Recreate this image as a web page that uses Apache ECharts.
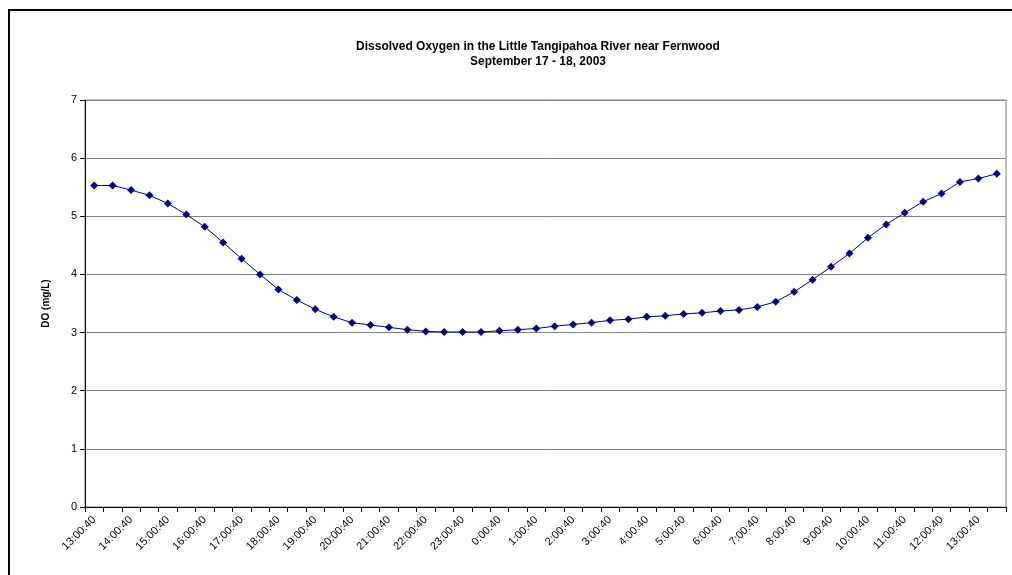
<!DOCTYPE html>
<html>
<head>
<meta charset="utf-8">
<script src="https://cdn.jsdelivr.net/npm/echarts@6/dist/echarts.min.js"></script>
<style>html,body{margin:0;padding:0;background:#fff;}#c{width:1012px;height:575px;}</style>
</head>
<body>
<div id="c"></div>
<script>
var titleLines = ["Dissolved Oxygen in the Little Tangipahoa River near Fernwood", "September 17 - 18, 2003"];
var yAxisName = "DO (mg/L)";
var categories = ["13:00:40","13:30:40","14:00:40","14:30:40","15:00:40","15:30:40","16:00:40","16:30:40",
"17:00:40","17:30:40","18:00:40","18:30:40","19:00:40","19:30:40","20:00:40","20:30:40","21:00:40","21:30:40",
"22:00:40","22:30:40","23:00:40","23:30:40","0:00:40","0:30:40","1:00:40","1:30:40","2:00:40","2:30:40",
"3:00:40","3:30:40","4:00:40","4:30:40","5:00:40","5:30:40","6:00:40","6:30:40","7:00:40","7:30:40",
"8:00:40","8:30:40","9:00:40","9:30:40","10:00:40","10:30:40","11:00:40","11:30:40","12:00:40","12:30:40",
"13:00:40","13:30:40"];
var doValues = [5.53,5.53,5.45,5.36,5.22,5.03,4.82,4.55,4.27,4.00,
3.74,3.56,3.40,3.27,3.17,3.13,3.09,3.05,3.02,3.01,
3.01,3.01,3.03,3.05,3.07,3.11,3.14,3.17,3.21,3.23,
3.27,3.29,3.32,3.34,3.37,3.39,3.44,3.53,3.70,3.91,
4.13,4.36,4.63,4.86,5.06,5.25,5.39,5.59,5.65,5.73];
var yTicks = [0,1,2,3,4,5,6,7];

var chart = echarts.init(document.getElementById('c'), null, {renderer:'canvas'});
chart.setOption({
  animation:false,
  backgroundColor:'#ffffff',
  title:{
    text: titleLines.join('\n'),
    left: 533, top: 34, textAlign:'center',
    textStyle:{fontFamily:'Liberation Sans, Arial, sans-serif', fontSize:12, fontWeight:'bold', color:'#000', lineHeight:15}
  },
  graphic:[{
    type:'rect', shape:{x:9,y:10,width:1200,height:1000},
    style:{fill:null, stroke:'#000', lineWidth:2}, silent:true, z:-1
  }],
  grid:{left:85,right:6,top:100,bottom:68,show:true,borderColor:'#808080',borderWidth:1,backgroundColor:'transparent'},
  xAxis:{
    type:'category', data:categories, boundaryGap:true,
    axisLine:{show:true,lineStyle:{color:'#000',width:1}},
    axisTick:{show:true,interval:0,length:5,inside:false,lineStyle:{color:'#000'}},
    axisLabel:{interval:1,rotate:45,fontFamily:'Liberation Sans, Arial, sans-serif',fontSize:11,color:'#000',margin:11},
    splitLine:{show:false}
  },
  yAxis:{
    type:'value', min:yTicks[0], max:yTicks[yTicks.length-1], interval:1,
    name:yAxisName, nameLocation:'middle', nameRotate:90, nameGap:34,
    nameTextStyle:{fontFamily:'Liberation Sans, Arial, sans-serif',fontSize:10,fontWeight:'bold',color:'#000'},
    axisLine:{show:true,lineStyle:{color:'#000',width:1}},
    axisTick:{show:true,length:5,lineStyle:{color:'#000'}},
    axisLabel:{fontFamily:'Liberation Sans, Arial, sans-serif',fontSize:11,color:'#000',margin:8},
    splitLine:{show:true,lineStyle:{color:'#808080',width:1}}
  },
  series:[{
    type:'line', data:doValues,
    symbol:'diamond', symbolSize:8, showAllSymbol:true,
    lineStyle:{color:'#000080',width:1},
    itemStyle:{color:'#000080'}
  }]
});
</script>
</body>
</html>
